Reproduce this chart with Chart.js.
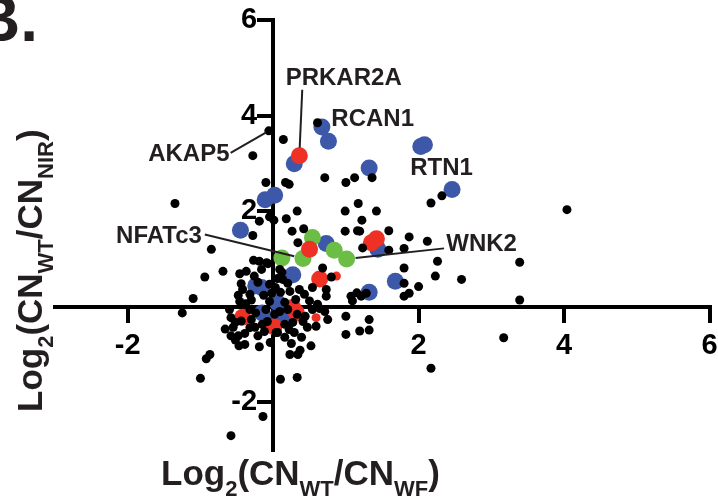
<!DOCTYPE html>
<html>
<head>
<meta charset="utf-8">
<script src="https://cdn.jsdelivr.net/npm/chart.js@4"></script>
<style>
  html, body { margin: 0; padding: 0; background: #fff; }
  #wrap { position: relative; width: 718px; height: 502px; overflow: hidden; }
  .txt { position: absolute; font-family: "Liberation Sans", Arial, sans-serif; font-weight: bold; color: #231f20; white-space: nowrap; line-height: 1; }
  .txt sub { font-size: 22px; vertical-align: -11px; line-height: 1; }
  #fig { left: -26px; top: -13px; font-size: 64px; }
  #xt { left: 161px; top: 455px; font-size: 35px; }
  #yt { left: 12px; top: 412px; font-size: 35px; transform-origin: left top; transform: rotate(-90deg); }
</style>
</head>
<body>
<div id="wrap">
  <canvas id="chart" width="718" height="502"></canvas>
  <div class="txt" id="fig">B.</div>
  <div class="txt" id="xt">Log<sub>2</sub>(CN<sub>WT</sub>/CN<sub>WF</sub>)</div>
  <div class="txt" id="yt">Log<sub>2</sub>(CN<sub>WT</sub>/CN<sub>NIR</sub>)</div>
</div>
<script>
// values (log2 ratios)
const blackX = [-0.06, 0.14, -0.28, 0.61, -0.10, 0.17, 0.22, 0.71, 1.00, 1.12, -1.35, 1.36, 2.17, 2.32, 4.04, 1.42, 1.22, 1.19, 1.59, 1.87,
  2.12, 1.59, 1.80, 1.80, 2.26, 2.23, 2.59, 3.39, 3.39, 1.80, 2.00, 1.87, 1.80, 1.28, 1.21, 1.32, 1.32, 1.19, 3.17, 2.17,
  -0.05, 0.01, -0.19, 0.18, 0.33, 0.26, 0.42, -0.28, 0.99, 1.17, 0.99, 1.16, -0.85, 0.34, 1.23, -0.27, -0.19, -0.07, -0.26, -0.69,
  -0.94, -0.46, -0.44, -1.10, -0.48, -0.38, -1.25, 0.68, 0.80, 1.15, 0.54, 0.73, 0.73, 0.50, 1.00, 1.09, 1.00, 0.75, 0.59, 0.54,
  0.64, 0.41, 0.25, 0.52, 0.23, 0.34, 0.37, 0.29, 0.06, 0.10, 0.33, -0.47, -0.19, -0.87, -0.92, -1.00, -0.14, -0.58, -0.60, -0.58,
  -0.55, -0.58, -0.48, -0.39, -0.32, -0.30, -0.21, -0.24, 0.04, -0.09, 0.09, 0.13, 0.03, 0.23, 0.36, 0.31, 0.43, 0.16, -0.13, -0.05,
  -0.10, 0.09, 0.20, 0.33, -0.08, 0.16, -0.15, 0.27, -0.46, -0.32, -0.21, -0.42, -0.32, -0.52, -0.39, -0.25, 0.16, 0.39, 0.47, 0.61,
  0.71, -0.04, 0.10, -0.05, 0.06, 0.20, -0.37, -0.16, 1.07, -0.66, -0.52, -0.44, -0.12, 0.22, 0.44, -0.02, -0.30, 0.12, 0.02];
const blackY = [3.68, 3.50, 3.16, 3.85, 2.60, 2.60, 2.56, 2.70, 2.60, 2.70, 2.16, 2.70, 2.17, 2.32, 2.03, 2.00, 1.81, 1.58, 1.59, 1.46,
  1.37, 1.18, 1.22, 0.81, 0.95, 0.64, 0.57, 0.93, 0.14, 0.49, 0.42, 0.28, 0.22, 0.28, 0.22, -0.27, -0.49, -0.51, -0.65, -1.29,
  1.88, 1.81, 1.79, 1.84, 2.00, 1.58, 1.63, 1.49, 2.00, 2.16, 1.58, 1.59, 1.20, 1.34, 1.23, 0.97, 0.95, 0.90, 0.64, 0.74,
  0.62, 0.69, 0.48, 0.17, 0.24, 0.06, -0.13, 0.81, 0.62, 0.29, 0.40, 0.36, 0.22, 0.12, -0.20, 0.12, -0.58, -0.27, -0.41, -0.06,
  -0.04, -0.31, -0.77, -0.82, -1.00, -1.00, -0.91, -0.54, -0.54, -1.52, -1.48, -0.82, -0.84, -1.00, -1.09, -1.50, -2.30, -2.70, -0.06, -0.23,
  -0.43, -0.61, -0.61, -0.56, -0.44, -0.27, -0.61, -0.13, -0.54, 0.92, 0.78, 0.57, 0.40, 0.32, 0.36, 0.15, 0.26, 0.09, 0.24, 0.11,
  -0.06, -0.10, -0.06, -0.16, -0.31, -0.37, -0.37, -0.33, 0.11, 0.26, 0.51, 0.36, -0.06, -0.33, -0.79, -0.43, -0.64, -0.64, -0.43, 0.05,
  -0.10, -0.75, 0.30, 0.47, 0.59, 0.49, 0.74, 0.78, 0.22, -0.47, -0.70, -0.30, -0.52, -0.48, -0.20, 0.28, 0.14, 0.72, -0.16];

const blueX = [0.67, 0.76, 0.29, 0.02, -0.11, 1.32, 2.03, 2.08, 2.46, -0.45, 0.73, 1.44, 0.27, 1.68, 1.32, -0.16, -0.24, -0.15, 0.06, 0.18, 0.04];
const blueY = [3.76, 3.46, 2.99, 2.33, 2.24, 2.90, 3.35, 3.39, 2.45, 1.60, 1.32, 1.20, 0.67, 0.53, 0.30, 0.40, 0.44, -0.13, 0.08, -0.23, -0.23];

const redX = [0.36, 0.50, 0.64, 1.35, 1.42, -0.42, 0.01, 0.27, 0.32];
const redY = [3.16, 1.20, 0.58, 1.34, 1.42, -0.22, -0.42, -0.02, -0.13];

const smallRedX = [0.59, 0.87];
const smallRedY = [-0.23, 0.64];

const greenX = [0.12, 0.41, 0.54, 0.84, 1.01];
const greenY = [1.02, 1.01, 1.45, 1.18, 1.00];

const xTicks = [-2, 2, 4, 6];
const yTicks = [-2, 2, 4, 6];

const FONT = '"Liberation Sans", Arial, sans-serif';

function pts(xs, ys) {
  return xs.map((v, i) => ({ x: v, y: ys[i] }));
}

// gene labels with leader lines
const callouts = [
  { text: 'AKAP5', at: [-0.60, 3.18], align: 'right', from: [-0.585, 3.22], to: [blackX[0], blackY[0]], gap: 3 },
  { text: 'PRKAR2A', at: [0.97, 4.77], align: 'center', from: [0.40, 4.54], to: [redX[0], redY[0]], gap: 8 },
  { text: 'RCAN1', at: [0.80, 3.93], align: 'left' },
  { text: 'RTN1', at: [1.885, 2.90], align: 'left' },
  { text: 'NFATc3', at: [-0.98, 1.47], align: 'right', from: [-0.94, 1.51], to: [greenX[1], greenY[1]], gap: 9 },
  { text: 'WNK2', at: [2.38, 1.30], align: 'left', from: [2.35, 1.22], to: [greenX[4], greenY[4]], gap: 9 },
];

const calloutPlugin = {
  id: 'callouts',
  afterDatasetsDraw(chart) {
    const { ctx, scales: { x, y } } = chart;
    ctx.save();
    ctx.font = 'bold 24px ' + FONT;
    ctx.fillStyle = '#231f20';
    ctx.strokeStyle = '#231f20';
    ctx.lineWidth = 2;
    callouts.forEach(c => {
      if (c.from) {
        const x1 = x.getPixelForValue(c.from[0]), y1 = y.getPixelForValue(c.from[1]);
        let x2 = x.getPixelForValue(c.to[0]), y2 = y.getPixelForValue(c.to[1]);
        const dx = x2 - x1, dy = y2 - y1, d = Math.hypot(dx, dy);
        x2 -= dx / d * c.gap;
        y2 -= dy / d * c.gap;
        ctx.beginPath();
        ctx.moveTo(x1, y1);
        ctx.lineTo(x2, y2);
        ctx.stroke();
      }
      ctx.textAlign = c.align;
      ctx.textBaseline = 'middle';
      ctx.fillText(c.text, x.getPixelForValue(c.at[0]), y.getPixelForValue(c.at[1]));
    });
    ctx.restore();
  }
};

const axisCommon = {
  type: 'linear',
  min: -3,
  max: 6,
  grid: { drawOnChartArea: false, tickLength: 14, lineWidth: 4, color: '#000' },
  border: { color: '#000', width: 4 },
  // the axes cross inside the plot, so their labels must not push the plot edges in
  afterFit: s => { s.paddingLeft = 0; s.paddingRight = 0; s.paddingTop = 0; s.paddingBottom = 0; },
};

const config = {
  type: 'scatter',
  data: {
    datasets: [
      { label: 'other', data: pts(blackX, blackY), backgroundColor: '#000', pointRadius: 4.5, pointBorderWidth: 0 },
      { label: 'small', data: pts(smallRedX, smallRedY), backgroundColor: '#ee3124', pointRadius: 4.5, pointBorderWidth: 0 },
      { label: 'red', data: pts(redX, redY), backgroundColor: '#ee3124', pointRadius: 8.5, pointBorderWidth: 0 },
      { label: 'green', data: pts(greenX, greenY), backgroundColor: '#6cbd45', pointRadius: 8.5, pointBorderWidth: 0 },
      { label: 'blue', data: pts(blueX, blueY), backgroundColor: '#3d58a8', pointRadius: 8.5, pointBorderWidth: 0 },
    ]
  },
  options: {
    responsive: false,
    animation: false,
    devicePixelRatio: 1,
    layout: { padding: { left: 55, right: 8, top: 20, bottom: 52 } },
    plugins: { legend: { display: false }, tooltip: { enabled: false } },
    scales: {
      x: {
        ...axisCommon,
        position: { y: 0 },
        afterBuildTicks: s => { s.ticks = xTicks.map(v => ({ value: v })); },
        ticks: { autoSkip: false, maxRotation: 0, padding: 8, color: '#000', font: { family: FONT, size: 29, weight: 'bold' } },
      },
      y: {
        ...axisCommon,
        position: { x: 0 },
        afterBuildTicks: s => { s.ticks = yTicks.map(v => ({ value: v })); },
        ticks: { autoSkip: false, color: '#000', font: { family: FONT, size: 29, weight: 'bold' }, callback: v => v + '  ' },
      }
    }
  },
  plugins: [calloutPlugin]
};

new Chart(document.getElementById('chart'), config);
</script>
</body>
</html>
